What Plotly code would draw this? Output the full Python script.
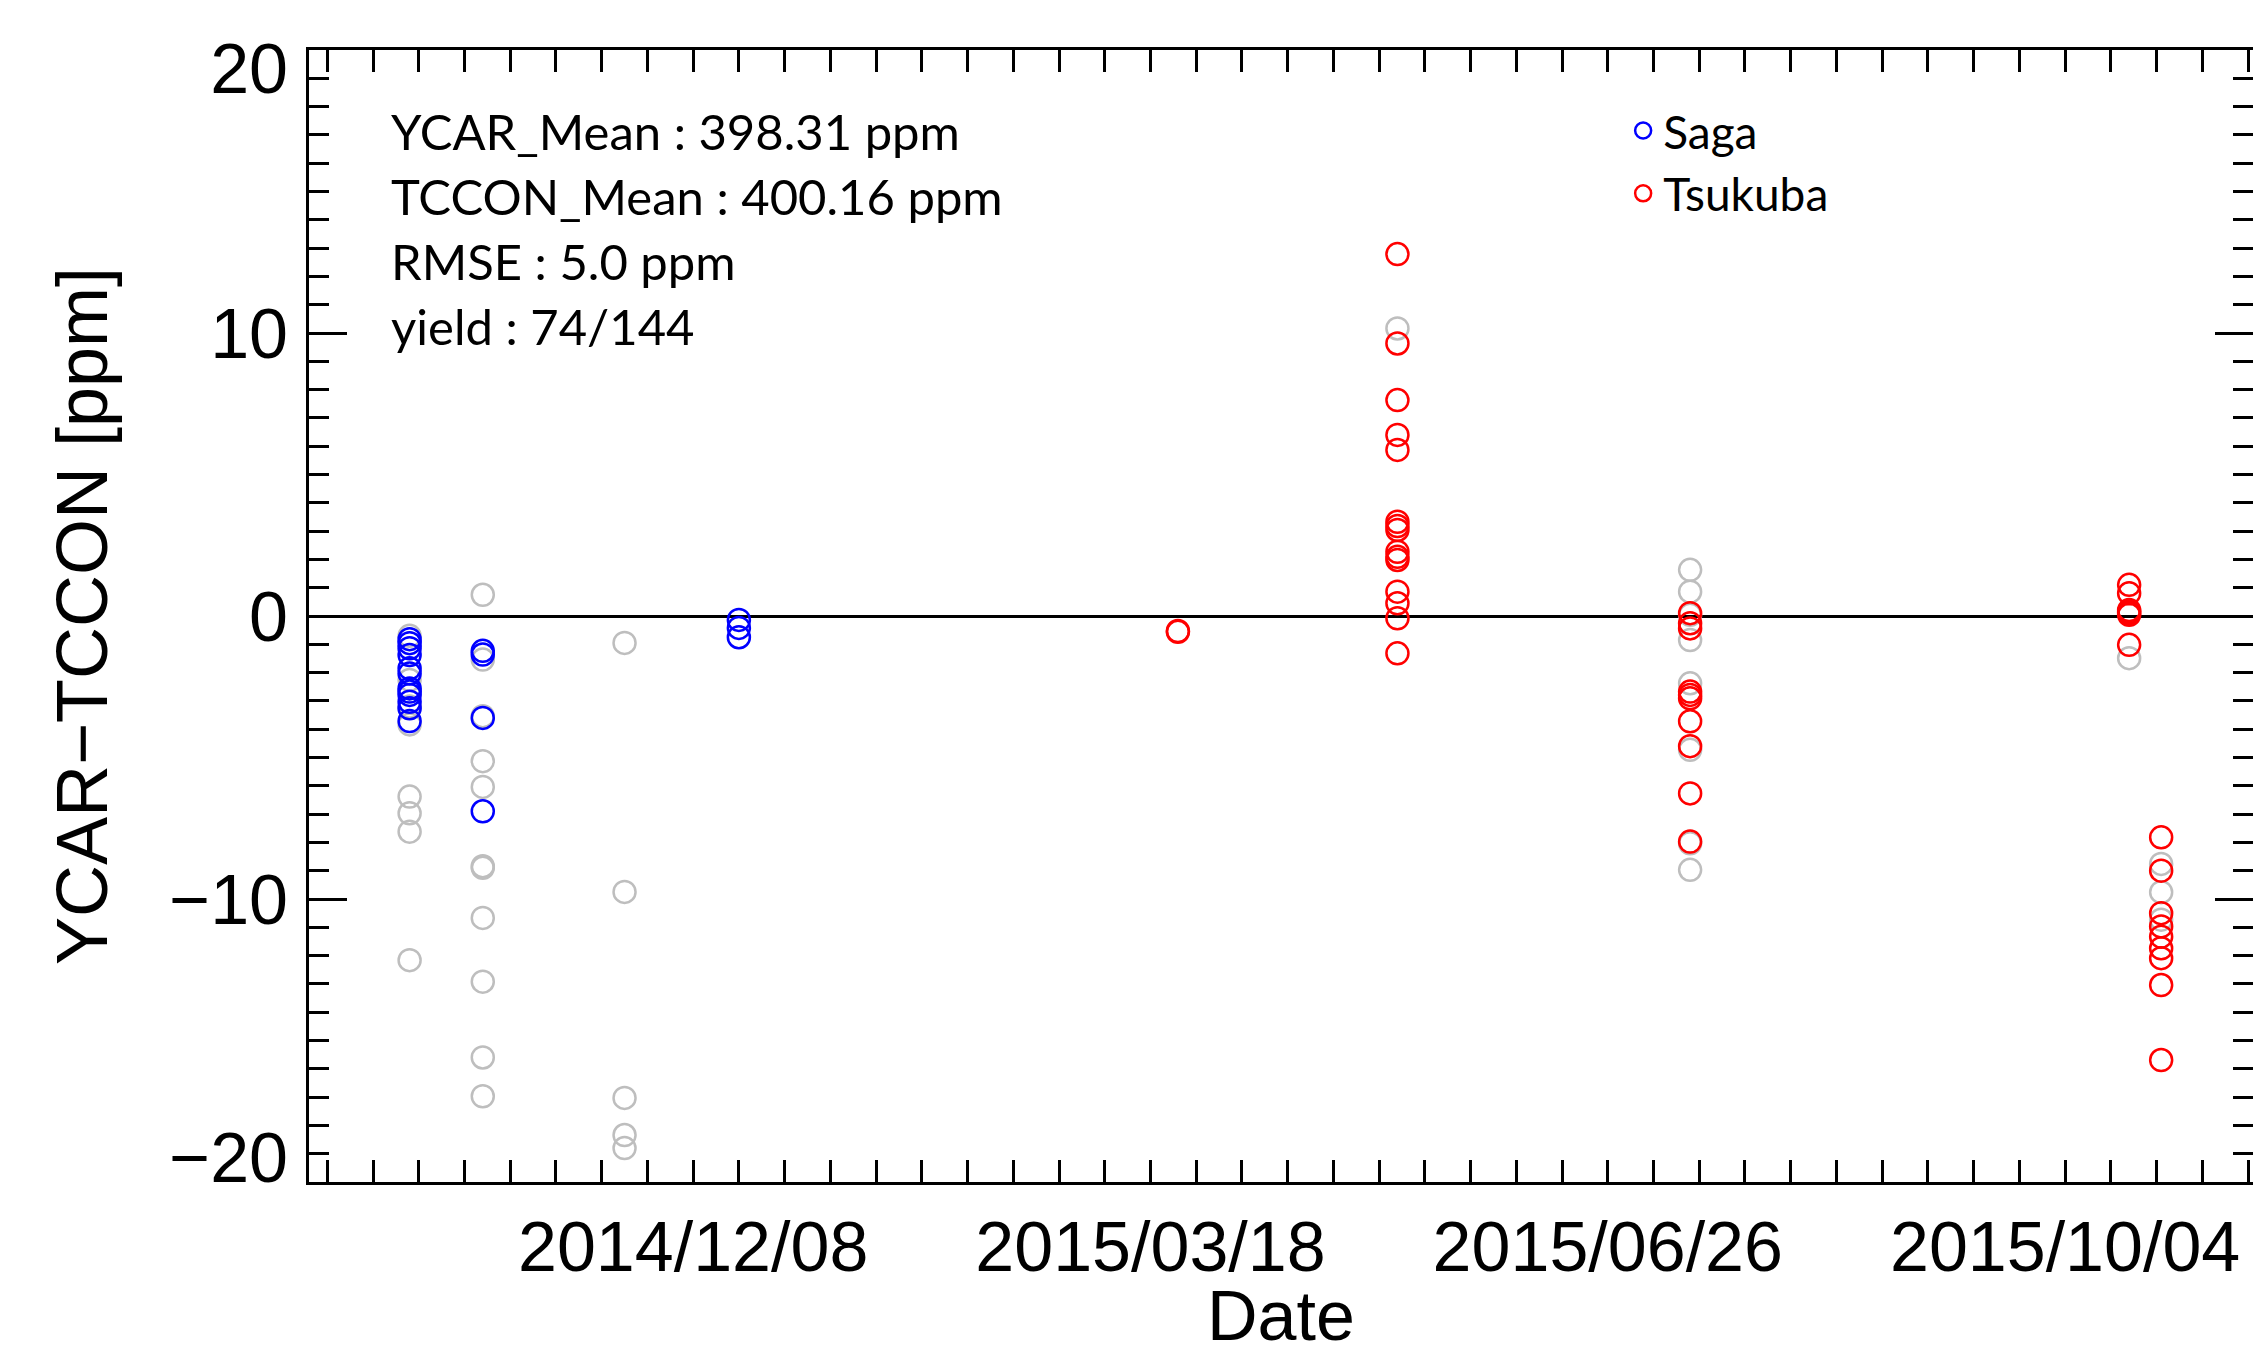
import plotly.graph_objects as go

# ---------------- data ----------------
saga_days = ["2014-10-07", "2014-10-23", "2014-12-18"]
saga_values = [
    [-0.82, -0.96, -1.14, -1.38, -1.85, -2.03, -2.56, -2.67, -2.79, -3.03, -3.26, -3.71],
    [-1.23, -1.36, -3.60, -6.90],
    [-0.14, -0.42, -0.75],
]

tsukuba_days = ["2015-03-24", "2015-05-11", "2015-07-14", "2015-10-18", "2015-10-25"]
tsukuba_values = [
    [-0.53, -0.56],
    [12.79, 9.63, 7.63, 6.40, 5.87, 3.33, 3.18, 3.04, 2.27, 2.09, 1.98, 0.86, 0.45, -0.08, -1.32],
    [0.10, -0.26, -0.44, -2.67, -2.79, -2.91, -3.72, -4.60, -6.27, -7.97],
    [1.10, 0.80, 0.21, 0.15, 0.10, 0.04, -1.02],
    [-7.82, -9.00, -10.50, -10.97, -11.33, -11.74, -12.09, -13.04, -15.69],
]

rejected_days = ["2014-10-07", "2014-10-23", "2014-11-23", "2015-05-11", "2015-07-14", "2015-10-18", "2015-10-25"]
rejected_values = [
    [-0.70, -2.26, -3.20, -3.83, -6.38, -6.97, -7.62, -12.16],
    [0.75, -1.54, -3.54, -5.13, -6.04, -8.84, -8.90, -10.67, -12.92, -15.60, -16.97],
    [-0.95, -9.75, -17.03, -18.34, -18.80],
    [10.16],
    [1.63, 0.86, 0.04, -0.85, -2.38, -4.73, -8.03, -8.97],
    [-1.49],
    [-8.76, -9.76, -10.73],
]

stats_lines = ["YCAR_Mean : 398.31 ppm", "TCCON_Mean : 400.16 ppm", "RMSE : 5.0 ppm", "yield : 74/144"]

y_tick_vals = [20, 10, 0, -10, -20]
y_tick_text = ["20", "10", "0", "\u221210", "\u221220"]
# label positions nudged inward at the ends (as in the original IDL plot)
y_label_pos = [19.33, 10, 0, -10, -19.15]

x_range = ["2014-09-15", "2015-11-14 02:00"]
x_tick0 = "2014-12-08"
x_title = "Date"
DAY_MS = 86400000


def flatten(days, values):
    xs, ys = [], []
    for d, vals in zip(days, values):
        for v in vals:
            xs.append(d)
            ys.append(v)
    return xs, ys


AX_FONT = "Liberation Sans, Arial, sans-serif"
TXT_FONT = "Lato, Open Sans, sans-serif"

fig = go.Figure()

rx, ry = flatten(rejected_days, rejected_values)
fig.add_trace(go.Scatter(
    x=rx, y=ry, mode="markers", showlegend=False, hoverinfo="skip",
    marker=dict(symbol="circle-open", size=22, color="#BEBEBE", line=dict(width=2.5, color="#BEBEBE")),
))

sx, sy = flatten(saga_days, saga_values)
fig.add_trace(go.Scatter(
    x=sx, y=sy, mode="markers", name="Saga",
    marker=dict(symbol="circle-open", size=22, color="#0000FF", line=dict(width=2.5, color="#0000FF")),
))

tx, ty = flatten(tsukuba_days, tsukuba_values)
fig.add_trace(go.Scatter(
    x=tx, y=ty, mode="markers", name="Tsukuba",
    marker=dict(symbol="circle-open", size=22, color="#FF0000", line=dict(width=2.5, color="#FF0000")),
))

# invisible trace carrying the label axis
fig.add_trace(go.Scatter(
    x=[tsukuba_days[0]], y=[0], yaxis="y2", mode="markers", showlegend=False,
    hoverinfo="skip", marker=dict(opacity=0),
))

for i, line in enumerate(stats_lines):
    fig.add_annotation(
        text=line, xref="paper", yref="paper", x=0.041, y=0.9283 - i * 0.0575,
        xanchor="left", yanchor="middle", showarrow=False,
        font=dict(family=TXT_FONT, size=49, color="black"),
    )

# x-axis title near the lower edge, as in the reference
fig.add_annotation(
    text=x_title, xref="paper", yref="paper", x=0.5, y=-0.118,
    xanchor="center", yanchor="middle", showarrow=False,
    font=dict(family=AX_FONT, size=70, color="black"),
)

fig.update_layout(
    width=2253, height=1347,
    margin=dict(l=309, r=0, t=50, b=165),
    paper_bgcolor="white", plot_bgcolor="white",
    showlegend=True,
    legend=dict(
        x=0.676, y=0.961, xanchor="left", yanchor="top",
        bgcolor="rgba(0,0,0,0)", font=dict(family=TXT_FONT, size=46, color="black"),
        tracegroupgap=0, itemsizing="trace",
    ),
    xaxis=dict(
        type="date", range=x_range, tick0=x_tick0, dtick=100 * DAY_MS,
        tickformat="%Y/%m/%d", ticks="inside", ticklen=22, tickwidth=3, tickcolor="black",
        showline=True, linewidth=3, linecolor="black", mirror="allticks",
        showgrid=False, zeroline=False, automargin=False,
        minor=dict(tick0=x_tick0, dtick=10 * DAY_MS, ticks="inside", ticklen=11, tickwidth=3,
                   tickcolor="black", showgrid=False),
        tickfont=dict(family=AX_FONT, size=70, color="black"),
        ticklabelstandoff=2,
    ),
    yaxis=dict(
        range=[-20, 20], tickvals=y_tick_vals, ticks="inside", ticklen=38, tickwidth=3,
        tickcolor="black", showticklabels=False, automargin=False,
        showline=True, linewidth=3, linecolor="black", mirror="allticks",
        showgrid=False, zeroline=True, zerolinecolor="black", zerolinewidth=3,
        minor=dict(tick0=0, dtick=1, ticks="inside", ticklen=20, tickwidth=3, tickcolor="black",
                   showgrid=False),
    ),
    yaxis2=dict(
        overlaying="y", side="left", range=[-20, 20], tickvals=y_label_pos, ticktext=y_tick_text,
        ticks="", showline=False, showgrid=False, zeroline=False, automargin=False,
        tickfont=dict(family=AX_FONT, size=70, color="black"),
        ticklabelstandoff=20,
        title=dict(text="YCAR\u2212TCCON [ppm]", font=dict(family=AX_FONT, size=72, color="black"),
                   standoff=38),
    ),
)

fig.write_html("out.html")
